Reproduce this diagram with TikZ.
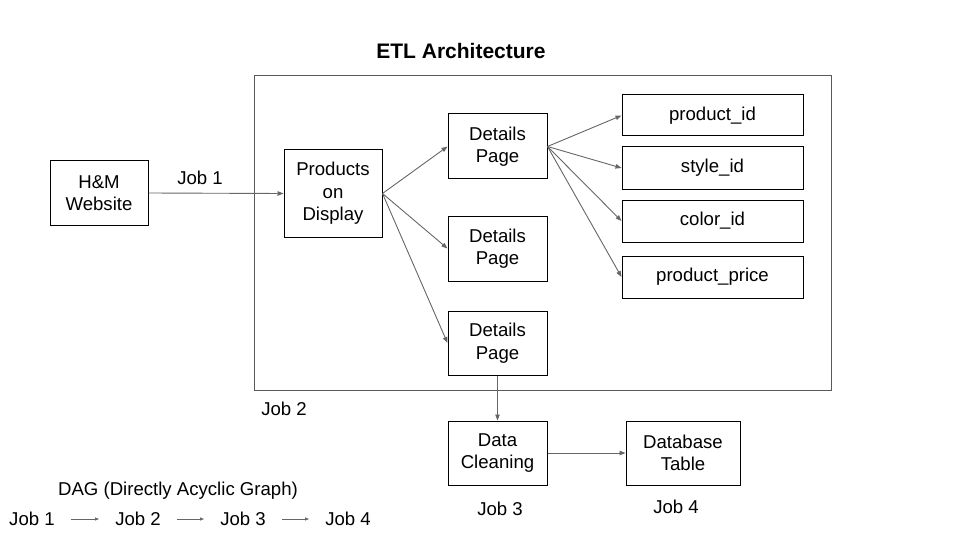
\documentclass[tikz,border=0pt]{standalone}
\usepackage{fontspec}
\setmainfont{Liberation Sans}
\usetikzlibrary{arrows.meta}
\definecolor{linegray}{HTML}{666666}
\definecolor{framegray}{HTML}{595959}
\tikzset{
	box/.style={draw=black,line width=1pt,align=center,inner sep=2pt},
	flow/.style={draw=linegray,line width=0.9pt,-{Triangle[length=6pt,width=4.5pt]}},
	lbl/.style={inner sep=0pt}
}
\begin{document}
\begin{tikzpicture}[x=1pt,y=-1pt,font=\fontsize{18.6}{22.5}\selectfont]
	\useasboundingbox (0,0) rectangle (960,540);

	\node[lbl,font=\fontsize{21}{24}\selectfont\bfseries] (title) at (461,51) {ETL Architecture};
	\draw[framegray,line width=1pt] (254,76) rectangle (831,390);

	\node[box,minimum width=98pt,minimum height=64pt] (web) at (99,193) {H\&M\\Website};
	\node[box,minimum width=98pt,minimum height=87pt] (prod) at (333,193.5) {Products\\on\\Display};
	\node[box,minimum width=99pt,minimum height=65pt] (det1) at (497.5,146.5) {Details\\Page};
	\node[box,minimum width=99pt,minimum height=65pt] (det2) at (497.5,248.5) {Details\\Page};
	\node[box,minimum width=99pt,minimum height=64pt] (det3) at (497.5,343) {Details\\Page};

	\node[box,minimum width=181pt,minimum height=41pt] (pid) at (712.5,115.5) {product\_id};
	\node[box,minimum width=181pt,minimum height=42pt] (sid) at (712.5,168) {style\_id};
	\node[box,minimum width=181pt,minimum height=42pt] (cid) at (712.5,221) {color\_id};
	\node[box,minimum width=181pt,minimum height=42pt] (price) at (712.5,277) {product\_price};

	\node[box,minimum width=99pt,minimum height=64pt] (clean) at (497.5,453) {Data\\Cleaning};
	\node[box,minimum width=114pt,minimum height=64pt] (dbt) at (683,453) {Database\\Table};

	\node[lbl] (job1) at (200,178) {Job 1};
	\node[lbl] (job2) at (284,409) {Job 2};
	\node[lbl] (job3) at (500,509) {Job 3};
	\node[lbl] (job4) at (676,507) {Job 4};

	\draw[flow] (web.east) -- (prod.west);
	\foreach \d in {det1,det2,det3}
		\draw[flow] (prod.east) -- (\d.west);
	\foreach \f in {pid,sid,cid,price}
		\draw[flow] (det1.east) -- (\f.west);
	\draw[flow] (det3.south) -- (clean.north);
	\draw[flow] (clean.east) -- (dbt.west);

	% legend
	\node[lbl] (dag) at (178,491) {DAG (Directly Acyclic Graph)};
	\node[lbl] (lj1) at (32,519) {Job 1};
	\node[lbl] (lj2) at (138,519) {Job 2};
	\node[lbl] (lj3) at (243,519) {Job 3};
	\node[lbl] (lj4) at (348,519) {Job 4};
	\foreach \a/\b in {lj1/lj2,lj2/lj3,lj3/lj4}
		\draw[flow,line width=0.7pt,-{Triangle[length=4pt,width=3pt]},shorten <=16pt,shorten >=16pt] (\a.east) -- (\b.west);

\end{tikzpicture}
\end{document}
